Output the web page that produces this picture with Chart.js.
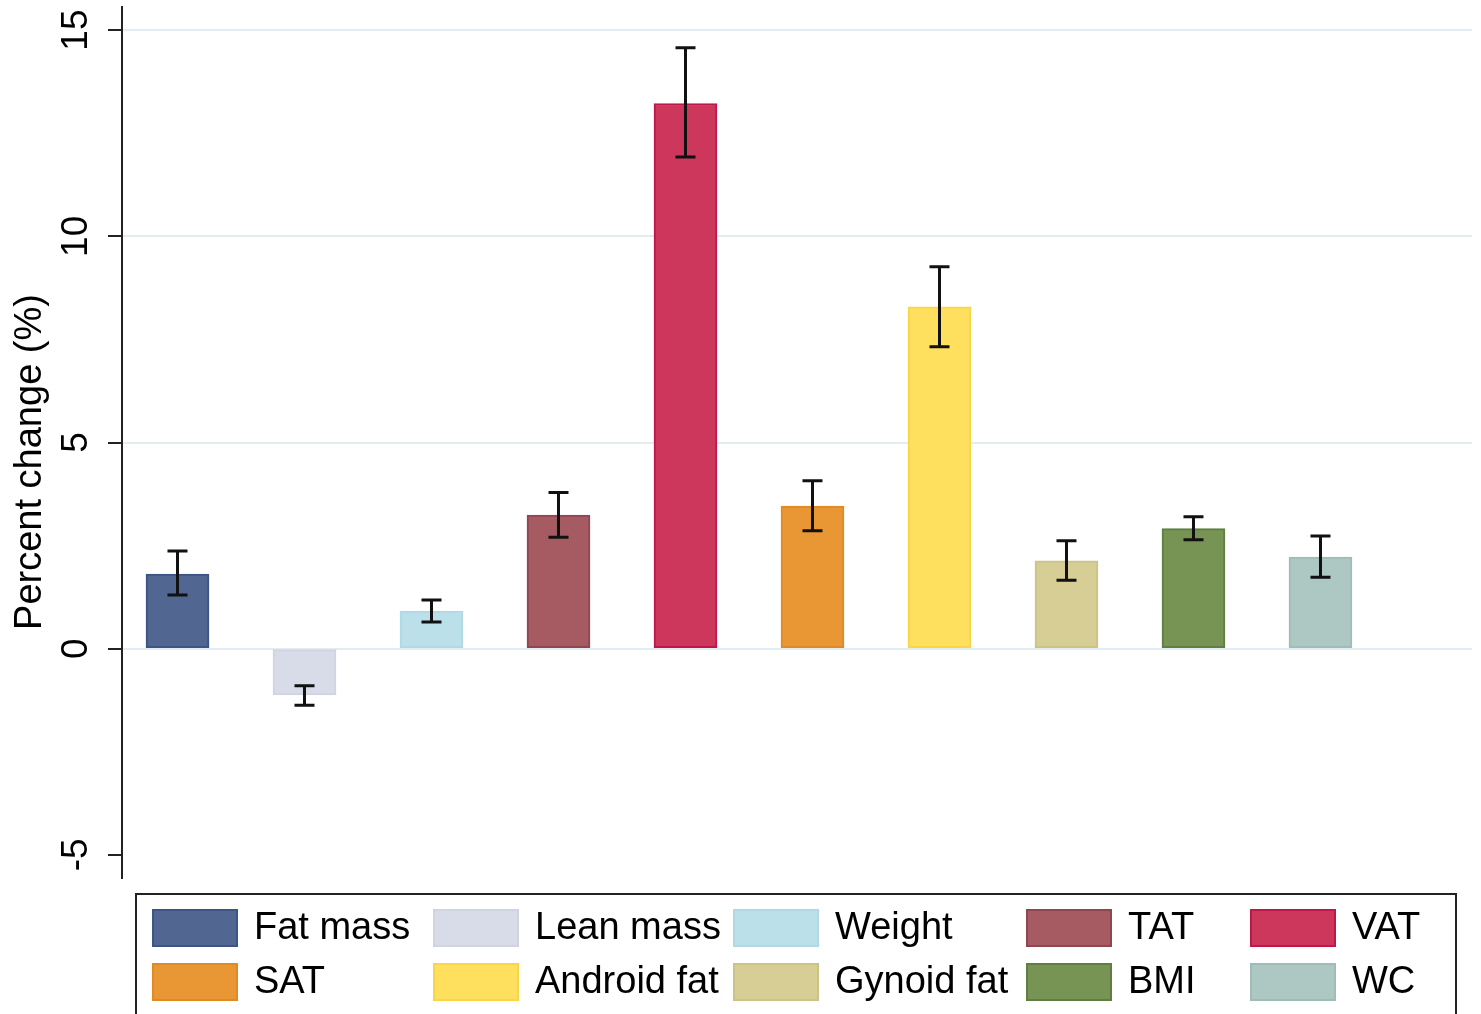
<!DOCTYPE html>
<html>
<head>
<meta charset="utf-8">
<script src="https://cdn.jsdelivr.net/npm/chart.js@4.4.1/dist/chart.umd.min.js"></script>
<style>
  html, body { margin: 0; padding: 0; background: #fff; }
  #wrap { width: 1481px; height: 1014px; }
</style>
</head>
<body>
<div id="wrap"><canvas id="changeChart" width="1481" height="1014"></canvas></div>
<script>
// Percent change per body composition measure, with 95% CI
const measures = ['Fat mass', 'Lean mass', 'Weight', 'TAT', 'VAT', 'SAT', 'Android fat', 'Gynoid fat', 'BMI', 'WC'];
const pctChange = [1.81, -1.12, 0.91, 3.24, 13.22, 3.46, 8.29, 2.13, 2.91, 2.22];
const ciUpper = [2.37, -0.90, 1.18, 3.79, 14.57, 4.07, 9.26, 2.62, 3.20, 2.73];
const ciLower = [1.30, -1.37, 0.65, 2.70, 11.92, 2.86, 7.32, 1.66, 2.64, 1.73];
const yTicks = [-5, 0, 5, 10, 15];

const fills = ['#516691', '#d8dce8', '#bce0ea', '#a65a62', '#cd375c', '#e99734', '#ffdf5e', '#d6ce95', '#789454', '#adc7c2'];
const edges = ['#3d5585', '#d0d4e2', '#b0d8e6', '#8f4650', '#c0174a', '#e08a25', '#fad548', '#ccc384', '#5f7e40', '#a0bcb7'];

const FONT = '"Liberation Sans", Arial, Helvetica, sans-serif';

// CI whiskers on top of each bar
const errorBars = {
  id: 'errorBars',
  afterDatasetsDraw(chart) {
    const { ctx, scales: { x, y } } = chart;
    ctx.save();
    ctx.strokeStyle = '#111';
    ctx.lineWidth = 3;
    measures.forEach((m, i) => {
      const px = x.getPixelForValue(i + 1);
      const top = y.getPixelForValue(ciUpper[i]);
      const bot = y.getPixelForValue(ciLower[i]);
      ctx.beginPath();
      ctx.moveTo(px, top); ctx.lineTo(px, bot);
      ctx.moveTo(px - 10, top); ctx.lineTo(px + 10, top);
      ctx.moveTo(px - 10, bot); ctx.lineTo(px + 10, bot);
      ctx.stroke();
    });
    ctx.restore();
  }
};

// rotated y title
const yTitle = {
  id: 'yTitle',
  afterDraw(chart) {
    const { ctx } = chart;
    ctx.save();
    ctx.translate(31, 462);
    ctx.rotate(-Math.PI / 2);
    ctx.font = '38px ' + FONT;
    ctx.fillStyle = '#000';
    ctx.textAlign = 'center';
    ctx.textBaseline = 'middle';
    ctx.fillText('Percent change (%)', 0, 0);
    ctx.restore();
  }
};

// boxed two-row key below the plot
const keyBox = {
  id: 'keyBox',
  afterDraw(chart) {
    const { ctx } = chart;
    const cols = [152, 433, 733, 1026, 1250];
    const rows = [909, 963];
    ctx.save();
    ctx.strokeStyle = '#222';
    ctx.lineWidth = 2;
    ctx.strokeRect(136, 894, 1320, 200);
    ctx.font = '38px ' + FONT;
    ctx.textBaseline = 'middle';
    ctx.textAlign = 'left';
    measures.forEach((m, i) => {
      const bx = cols[i % 5];
      const by = rows[Math.floor(i / 5)];
      ctx.fillStyle = fills[i];
      ctx.fillRect(bx, by, 86, 38);
      ctx.strokeStyle = edges[i];
      ctx.lineWidth = 2;
      ctx.strokeRect(bx + 1, by + 1, 84, 36);
      ctx.fillStyle = '#000';
      ctx.fillText(m, bx + 102, by + 20);
    });
    ctx.restore();
  }
};

const ctx = document.getElementById('changeChart').getContext('2d');
const changeChart = new Chart(ctx, {
  type: 'bar',
  data: {
    datasets: [{
      label: 'Percent change',
      data: measures.map((m, i) => ({ x: i + 1, y: pctChange[i] })),
      backgroundColor: fills,
      borderColor: edges,
      borderWidth: 2,
      borderSkipped: false,
      barThickness: 63
    }]
  },
  options: {
    responsive: false,
    animation: false,
    layout: { padding: { top: 7, right: 9, bottom: 136, left: 0 } },
    scales: {
      x: {
        type: 'linear',
        display: false,
        offset: false,
        min: 0.563,
        max: 11.193
      },
      y: {
        min: -5.56,
        max: 15.56,
        afterBuildTicks: (scale) => { scale.ticks = yTicks.map(v => ({ value: v })); },
        afterFit: (scale) => {
          scale.width = 122;
          scale.paddingTop = 0;
          scale.paddingBottom = 0;
        },
        border: { display: true, color: '#222', width: 2 },
        grid: {
          color: (c) => (c.tick && c.tick.value === -5 ? 'rgba(0,0,0,0)' : '#e3edf0'),
          lineWidth: 2,
          tickColor: '#222',
          tickWidth: 2,
          tickLength: 14
        },
        ticks: {
          minRotation: 90,
          maxRotation: 90,
          crossAlign: 'center',
          padding: 11,
          color: '#000',
          font: { family: FONT, size: 37 }
        }
      }
    },
    plugins: {
      legend: { display: false },
      tooltip: { enabled: false }
    }
  },
  plugins: [errorBars, yTitle, keyBox]
});
</script>
</body>
</html>
